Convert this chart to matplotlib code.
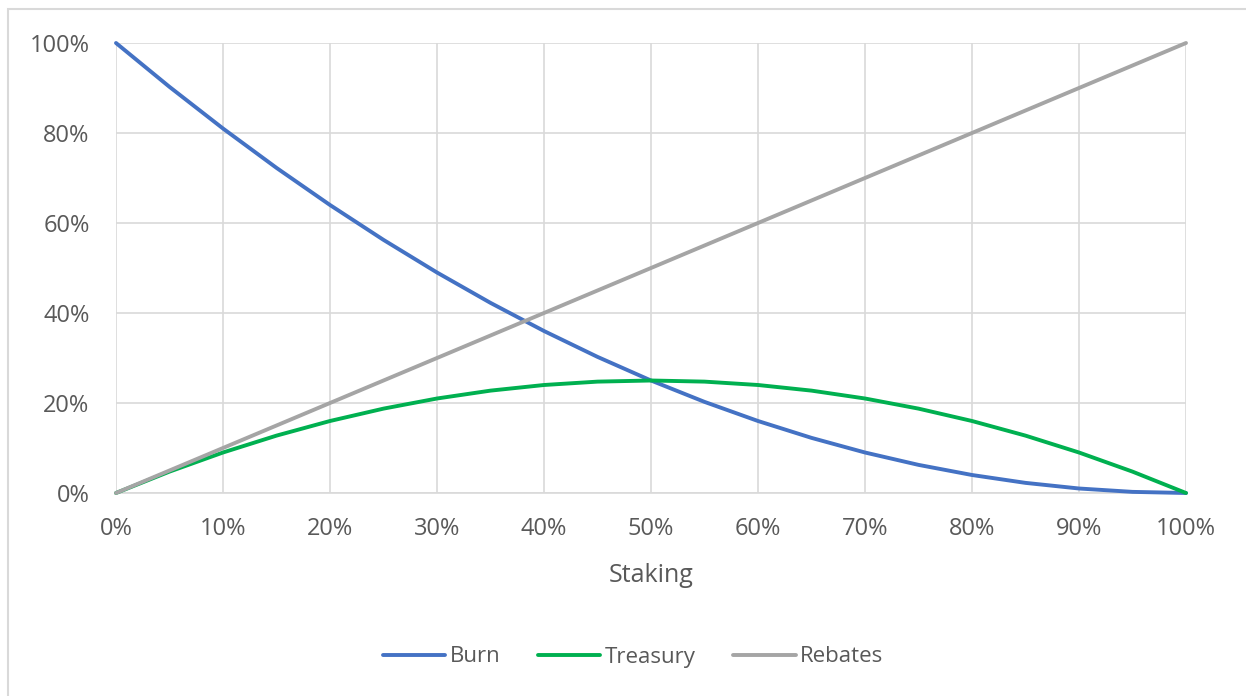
#!/usr/bin/env python3
"""Burn / Treasury / Rebates share vs staking ratio."""
import matplotlib
matplotlib.use('Agg')
import matplotlib.pyplot as plt
from matplotlib.patches import Rectangle
from matplotlib.ticker import PercentFormatter, MultipleLocator

# --- data (5% steps) ---
staking  = [0, 5, 10, 15, 20, 25, 30, 35, 40, 45, 50,
            55, 60, 65, 70, 75, 80, 85, 90, 95, 100]
burn     = [100, 90.25, 81, 72.25, 64, 56.25, 49, 42.25, 36, 30.25, 25,
            20.25, 16, 12.25, 9, 6.25, 4, 2.25, 1, 0.25, 0]
treasury = [0, 4.75, 9, 12.75, 16, 18.75, 21, 22.75, 24, 24.75, 25,
            24.75, 24, 22.75, 21, 18.75, 16, 12.75, 9, 4.75, 0]
rebates  = [0, 5, 10, 15, 20, 25, 30, 35, 40, 45, 50,
            55, 60, 65, 70, 75, 80, 85, 90, 95, 100]

series = [('Burn', burn, '#4472C4'),
          ('Treasury', treasury, '#00B050'),
          ('Rebates', rebates, '#A5A5A5')]

plt.rcParams['font.family'] = ['Open Sans', 'DejaVu Sans']
txt = '#595959'
grid = '#D9D9D9'

fig = plt.figure(figsize=(12.46, 6.96), dpi=100)
# outer chart border (only top/left visible in the crop)
fig.patches.append(Rectangle((8 / 1246, -0.05), 1.1, 1 - 9 / 696 + 0.05,
                             transform=fig.transFigure, fill=False,
                             edgecolor=grid, lw=1.5))

ax = fig.add_axes([116 / 1246, 1 - 493 / 696, 1070 / 1246, 450 / 696])

for name, vals, c in series:
    ax.plot(staking, vals, color=c, lw=2.8, label=name,
            solid_capstyle='round', solid_joinstyle='round',
            zorder=3, clip_on=False)

ax.set_xlim(0, 100)
ax.set_ylim(0, 100)
ax.xaxis.set_major_locator(MultipleLocator(10))
ax.yaxis.set_major_locator(MultipleLocator(20))
ax.xaxis.set_major_formatter(PercentFormatter(decimals=0))
ax.yaxis.set_major_formatter(PercentFormatter(decimals=0))
ax.grid(True, color=grid, lw=1.2, zorder=0)
ax.set_axisbelow(True)
for s in ['top', 'right', 'left']:
    ax.spines[s].set_visible(False)
ax.spines['bottom'].set_color(grid)
ax.spines['bottom'].set_linewidth(1.2)
ax.tick_params(length=0, labelsize=17, colors=txt)
ax.tick_params(axis='x', pad=17)
ax.tick_params(axis='y', pad=19)

ax.set_xlabel('Staking', fontsize=18, color=txt, labelpad=16)

ax.legend(loc='center', bbox_to_anchor=(633 / 1246, 1 - 657 / 696),
          bbox_transform=fig.transFigure, ncol=3, frameon=False,
          fontsize=16, labelcolor=txt, handlelength=2.8, handletextpad=0.2,
          columnspacing=1.7)

fig.savefig('out.png', dpi=100)
